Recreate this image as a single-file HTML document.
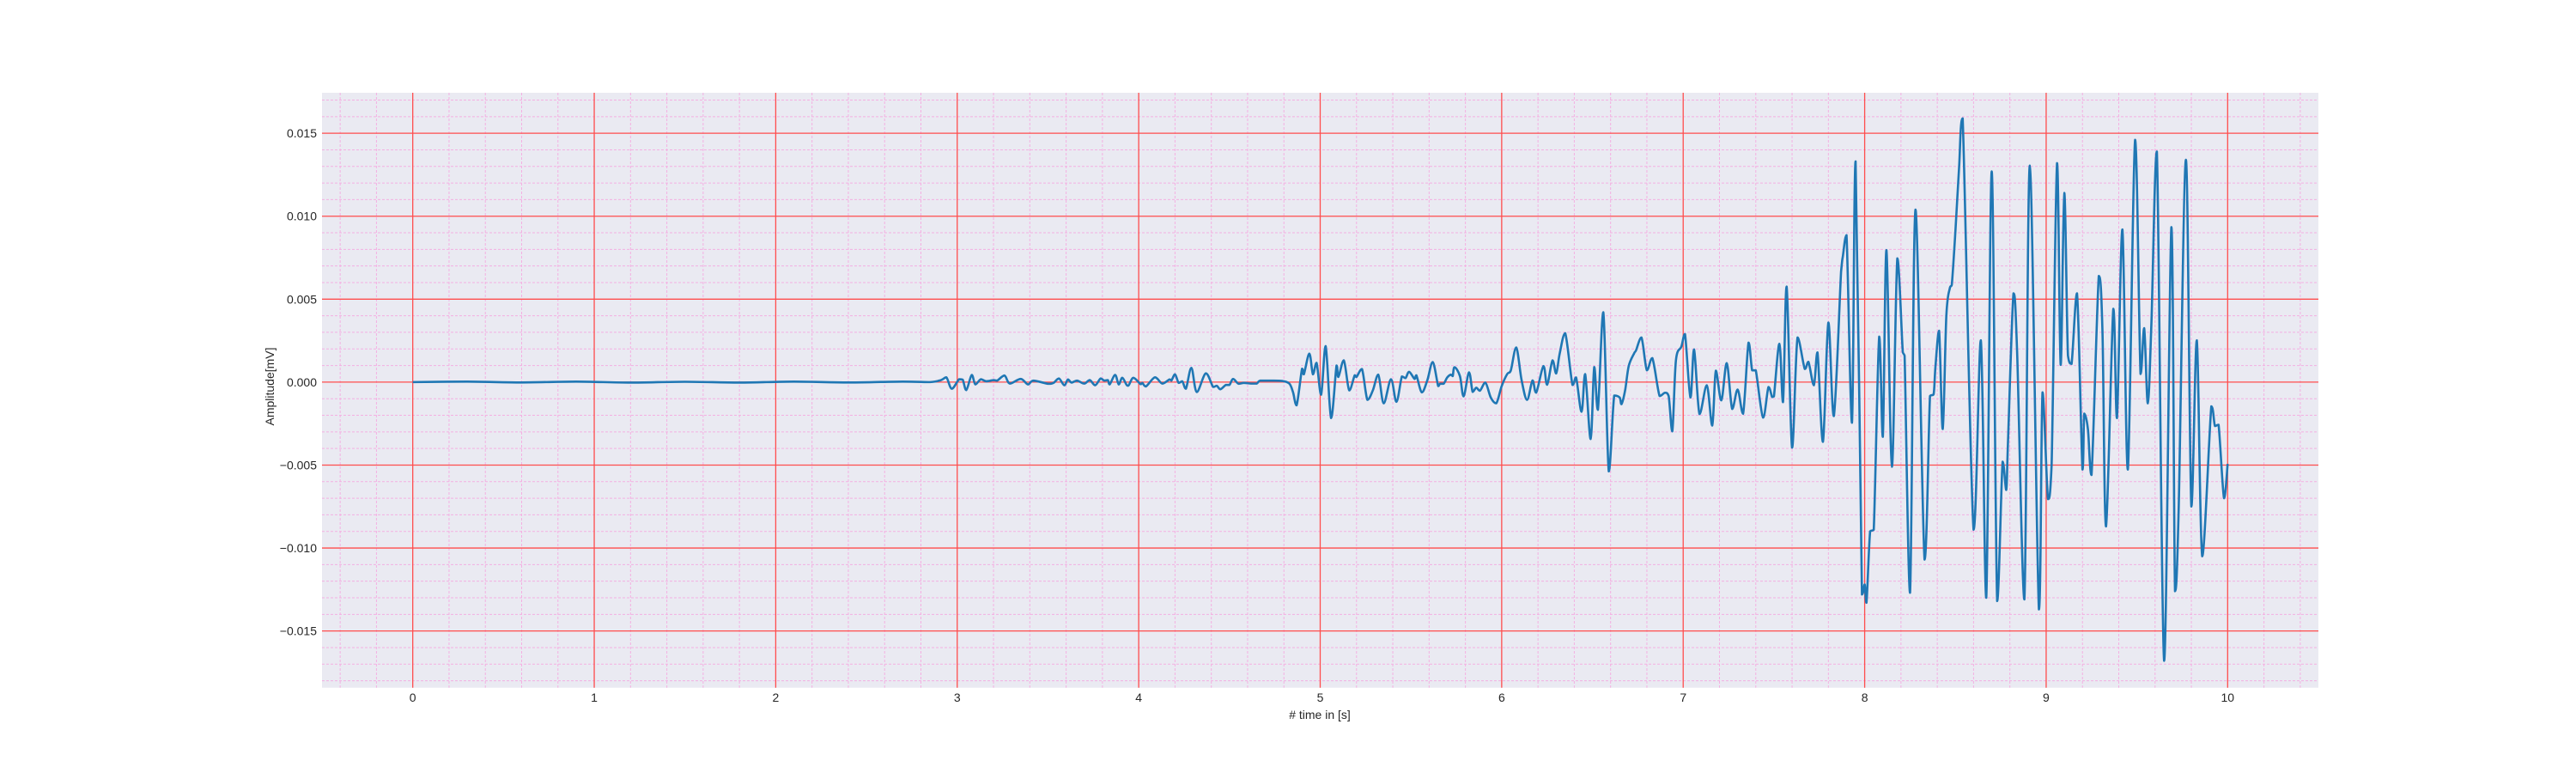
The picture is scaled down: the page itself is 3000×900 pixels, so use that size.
<!DOCTYPE html>
<html><head><meta charset="utf-8"><style>
html,body{margin:0;padding:0;background:#fff;}
svg{display:block;font-family:"Liberation Sans",Arial,sans-serif;}
</style></head><body>
<svg id="chart" width="3000" height="900" viewBox="0 0 3000 900" xmlns="http://www.w3.org/2000/svg">
<rect x="375" y="108" width="2325" height="692.7" fill="#eaeaf2"/>
<g id="grid"></g>
<g id="ticks"></g>
<path id="line" fill="none" stroke="#1f77b4" stroke-width="2.6" stroke-linejoin="round"/>
<text x="1537" y="837" font-size="14" fill="#262626" text-anchor="middle"># time in [s]</text>
<text x="0" y="0" font-size="14" fill="#262626" text-anchor="middle" transform="translate(319,450) rotate(-90)">Amplitude[mV]</text>
</svg>
<script>
const xTicks = [0,1,2,3,4,5,6,7,8,9,10];
const xTickLabels = ["0","1","2","3","4","5","6","7","8","9","10"];
const yTicks = [-0.015,-0.010,-0.005,0,0.005,0.010,0.015];
const yTickLabels = ["\u22120.015","\u22120.010","\u22120.005","0.000","0.005","0.010","0.015"];
// time (s) and amplitude (units of 0.001 mV) at read extrema
const times = [0,0.3,0.6,0.9,1.2,1.5,1.8,2.1,2.4,2.7,2.85,2.91,2.94,2.97,3.01,3.03,3.05,3.08,3.10,3.13,3.16,3.20,3.22,3.26,3.29,3.35,3.39,3.42,3.50,3.53,3.56,3.59,3.61,3.63,3.66,3.70,3.73,3.76,3.79,3.81,3.83,3.84,3.87,3.89,3.91,3.94,3.97,4.01,4.02,4.04,4.09,4.13,4.17,4.18,4.20,4.22,4.24,4.26,4.29,4.32,4.37,4.41,4.43,4.45,4.48,4.50,4.52,4.55,4.58,4.62,4.65,4.67,4.73,4.79,4.83,4.85,4.87,4.90,4.91,4.94,4.96,4.98,5.005,5.03,5.06,5.09,5.10,5.13,5.16,5.19,5.20,5.23,5.26,5.29,5.32,5.35,5.39,5.42,5.45,5.47,5.49,5.52,5.53,5.56,5.59,5.62,5.65,5.66,5.68,5.70,5.72,5.73,5.74,5.77,5.79,5.82,5.84,5.86,5.88,5.91,5.94,5.97,6.00,6.03,6.05,6.08,6.11,6.14,6.17,6.19,6.23,6.25,6.28,6.30,6.32,6.35,6.39,6.41,6.44,6.46,6.49,6.51,6.53,6.56,6.59,6.62,6.65,6.66,6.68,6.70,6.73,6.74,6.77,6.80,6.83,6.87,6.90,6.92,6.94,6.96,6.99,7.01,7.04,7.06,7.09,7.13,7.16,7.18,7.21,7.24,7.27,7.30,7.33,7.36,7.38,7.40,7.44,7.47,7.49,7.50,7.53,7.55,7.57,7.60,7.63,7.67,7.69,7.72,7.74,7.77,7.80,7.83,7.87,7.88,7.90,7.93,7.95,7.985,8.00,8.01,8.03,8.05,8.08,8.10,8.12,8.15,8.18,8.21,8.22,8.25,8.28,8.33,8.36,8.38,8.39,8.41,8.43,8.45,8.47,8.48,8.50,8.52,8.54,8.60,8.64,8.67,8.70,8.73,8.76,8.78,8.79,8.82,8.84,8.88,8.91,8.96,8.98,9.01,9.03,9.06,9.08,9.10,9.12,9.14,9.17,9.20,9.21,9.23,9.25,9.29,9.31,9.33,9.37,9.39,9.42,9.45,9.49,9.52,9.54,9.56,9.58,9.61,9.65,9.69,9.71,9.73,9.77,9.80,9.83,9.86,9.91,9.93,9.95,9.98,10.00];
const amps = [0,0.03,-0.02,0.03,-0.03,0.02,-0.03,0.03,-0.02,0.03,0,0.12,0.29,-0.4,0.17,0.15,-0.48,0.43,-0.14,0.17,0.05,0.12,0.09,0.4,-0.09,0.19,-0.14,0.09,-0.1,-0.05,0.22,-0.19,0.16,-0.03,0.09,-0.09,0.12,-0.19,0.22,0.09,0.12,-0.14,0.43,-0.14,0.26,-0.22,0.26,-0.12,-0.05,-0.26,0.29,-0.09,0.16,0.09,0.47,-0.05,0.05,-0.4,0.86,-0.6,0.53,-0.29,-0.22,-0.43,-0.17,-0.17,0.19,-0.1,-0.05,-0.09,-0.09,0.09,0.09,0.07,-0.09,-0.6,-1.4,0.81,0.47,1.72,0.47,1.16,-0.76,2.17,-2.17,1.0,0.31,1.31,-0.5,0.41,0.31,0.79,-1.07,-0.5,0.45,-1.28,0.17,-1.19,0.34,0.24,0.62,0.19,0.41,-0.62,0.1,1.21,-0.24,-0.1,-0.1,0.28,0.45,0.36,0.9,0.36,-0.86,0.59,-0.59,-0.34,-0.52,-0.03,-0.93,-1.28,-0.24,0.48,0.69,2.09,0.1,-1.07,0.1,-0.64,0.97,-0.16,1.31,0.52,1.74,2.95,-0.17,0.28,-1.79,0.48,-3.43,0.91,-1.67,4.21,-5.38,-0.81,-0.93,-1.33,-0.5,0.97,1.74,1.91,2.69,0.71,1.45,-0.84,-0.64,-0.84,-2.97,1.31,2.14,2.9,-0.93,1.97,-1.93,-0.19,-2.62,0.69,-1.1,1.14,-1.62,-0.45,-1.91,2.38,0.71,0.71,-2.14,-0.29,-0.9,-0.86,2.31,-1.21,5.76,-3.95,2.69,0.79,1.22,-0.19,1.79,-3.6,3.59,-2.05,6.66,7.6,8.86,-2.45,13.3,-12.8,-12.2,-13.3,-9.0,-8.9,2.74,-3.3,7.96,-5.1,7.46,1.81,1.59,-12.7,10.4,-10.7,-0.84,-0.73,0.93,3.1,-2.83,4.0,5.7,5.86,9.1,12.9,15.9,-8.9,2.52,-13.0,12.7,-13.2,-4.8,-6.5,-3.5,5.35,1.8,-13.1,13.05,-13.7,-0.62,-7.05,-5.0,13.2,1.04,11.4,1.6,1.1,5.35,-5.27,-1.9,-2.83,-5.6,6.4,3.14,-8.7,4.42,-2.17,9.2,-5.27,14.6,0.49,3.25,-1.28,3.58,13.9,-16.8,9.34,-12.6,-7.7,13.4,-7.5,2.52,-10.5,-1.46,-2.65,-2.57,-7.0,-4.93];

const X0=375, W=2325, XMIN=-0.5, XMAX=10.5;
const Y0=108, H=692.7, YMAX=0.01744, YMIN=-0.01842;
function xs(t){return X0+(t-XMIN)/(XMAX-XMIN)*W;}
function ys(v){return Y0+(YMAX-v)/(YMAX-YMIN)*H;}
const NS="http://www.w3.org/2000/svg";
const grid=document.getElementById('grid'), ticks=document.getElementById('ticks');
function mk(tag,attrs,parent){const e=document.createElementNS(NS,tag);for(const k in attrs)e.setAttribute(k,attrs[k]);parent.appendChild(e);return e;}
for(let i=-2;i<=52;i++){const t=i*0.2;if(i%5===0)continue;if(t<XMIN||t>XMAX)continue;
 const l=mk('line',{x1:xs(t),x2:xs(t),y1:Y0,y2:Y0+H,stroke:'#f4b0e2','stroke-width':1,'stroke-dasharray':'3,2'},grid);
 
 }
for(let i=-18;i<=17;i++){if(i%5===0)continue;const v=i*0.001;if(v<YMIN||v>YMAX)continue;
 const l=mk('line',{x1:X0,x2:X0+W,y1:ys(v),y2:ys(v),stroke:'#f4b0e2','stroke-width':1,'stroke-dasharray':'3,2'},grid);
 
 }
xTicks.forEach((t,i)=>{
 const l=mk('line',{x1:xs(t),x2:xs(t),y1:Y0,y2:Y0+H,stroke:'#ff4d4d','stroke-width':1.3},grid);
 
 
 const tx=mk('text',{x:xs(t),y:817,'font-size':14,fill:'#262626','text-anchor':'middle'},ticks);
 tx.textContent=xTickLabels[i];
 
 
});
yTicks.forEach((v,i)=>{
 const l=mk('line',{x1:X0,x2:X0+W,y1:ys(v),y2:ys(v),stroke:'#ff4d4d','stroke-width':1.3},grid);
 
 
 const tx=mk('text',{x:369,y:ys(v)+5,'font-size':14,fill:'#262626','text-anchor':'end'},ticks);
 tx.textContent=yTickLabels[i];
 
 
});
const P=times.map((t,i)=>[xs(t),ys(amps[i]*0.001)]);
let d='M'+P[0][0].toFixed(2)+','+P[0][1].toFixed(2);
function clamp(v,a,b){const lo=Math.min(a,b),hi=Math.max(a,b);return Math.min(Math.max(v,lo),hi);}
for(let i=0;i<P.length-1;i++){
 const p0=P[Math.max(0,i-1)],p1=P[i],p2=P[i+1],p3=P[Math.min(P.length-1,i+2)];
 const k=1/6;
 let c1x=clamp(p1[0]+(p2[0]-p0[0])*k,p1[0],p2[0]),c1y=clamp(p1[1]+(p2[1]-p0[1])*k,p1[1],p2[1]);
 let c2x=clamp(p2[0]-(p3[0]-p1[0])*k,p1[0],p2[0]),c2y=clamp(p2[1]-(p3[1]-p1[1])*k,p1[1],p2[1]);
 d+=' C'+c1x.toFixed(2)+','+c1y.toFixed(2)+' '+c2x.toFixed(2)+','+c2y.toFixed(2)+' '+p2[0].toFixed(2)+','+p2[1].toFixed(2);
}
document.getElementById('line').setAttribute('d',d);
</script>
</body></html>
